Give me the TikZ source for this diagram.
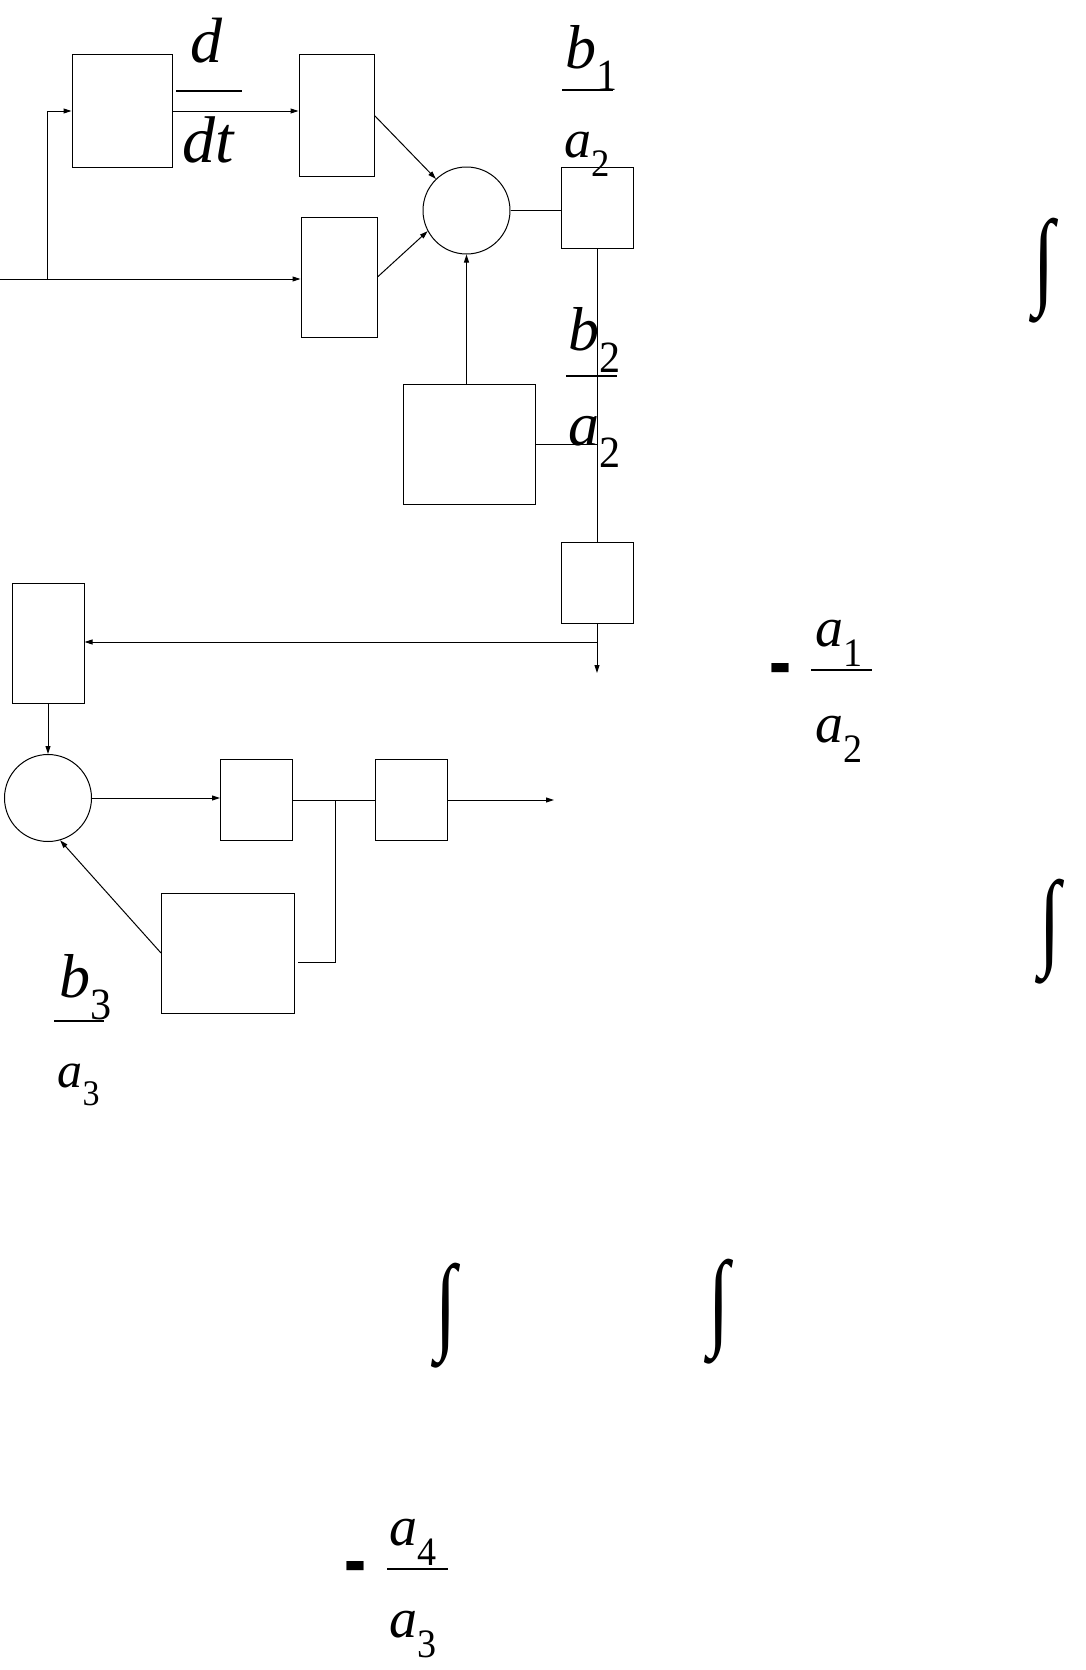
\documentclass[tikz,border=0pt]{standalone}
\usepackage{fontspec}
\usepackage{graphicx}
\setmainfont{Liberation Serif}
\usetikzlibrary{arrows.meta}

\newcommand{\coefsym}[2]{\textit{#1}\raisebox{-0.36em}{\scalebox{0.68}[0.72]{#2}}}

\begin{document}
\begin{tikzpicture}[x=1pt,y=-1pt,line width=1pt,>={Triangle[length=8pt,width=5pt]}]

    \tikzset{blk/.style={draw,minimum width=#1,inner sep=0pt},
             sumnode/.style={draw,circle,minimum size=87pt,inner sep=0pt},
             lbl/.style={inner sep=0pt,anchor=base west,font=\fontsize{#1pt}{#1pt}\selectfont},
             fracbar/.style={line width=2pt},
             minussign/.style={inner sep=0pt,font=\fontsize{60pt}{60pt}\selectfont\bfseries},
             intsign/.style={inner sep=0pt,font=\fontsize{#1pt}{#1pt}\selectfont}}
    \useasboundingbox (0,0) rectangle (1085,1670);

    \node[blk=100pt,minimum height=113pt] (diffbox) at (122,111) {};
    \node[blk=75pt,minimum height=121pt] (kbox1) at (336.5,115.5) {};
    \node[blk=76pt,minimum height=120pt] (kbox2) at (339,277) {};
    \node[sumnode] (sum1) at (466.5,210.5) {};
    \node[blk=72pt,minimum height=81pt] (gbox1) at (597,207.5) {};
    \node[blk=132pt,minimum height=120pt] (fbox1) at (469,444) {};
    \node[blk=72pt,minimum height=81pt] (gbox2) at (597,582.5) {};

    \node[blk=72pt,minimum height=120pt] (fbox2) at (48,643) {};
    \node[sumnode] (sum2) at (48,798) {};
    \node[blk=72pt,minimum height=81pt] (gbox3) at (256.5,800) {};
    \node[blk=72pt,minimum height=81pt] (gbox4) at (411.5,800) {};
    \node[blk=133pt,minimum height=120pt] (fbox3) at (228,953) {};

    \coordinate (in) at (0,279);
    \coordinate (br) at (47.6,279);
    \coordinate (tap1) at (597,642);
    \coordinate (out1) at (597,673);
    \coordinate (tap2) at (335,800);
    \coordinate (tap3) at (298,962);
    \coordinate (out2) at (554,800);

    % first loop
    \draw[->] (in) -- (in -| kbox2.west);
    \draw[->] (br) |- (diffbox.west);
    \draw[->] (diffbox.east) -- (diffbox.east -| kbox1.west);
    \draw[->] (kbox1.east) -- (sum1);
    \draw[->] (kbox2.east) -- (sum1.208);
    \draw (sum1.east) -- (sum1.east -| gbox1.west);
    \draw (gbox1.south) -- (gbox2.north);
    \draw[->] (sum1.south |- fbox1.north) -- (sum1.south);
    \draw (fbox1.east) -- (fbox1.east -| gbox2.north);
    \draw[->] (gbox2.south) -- (out1);
    \draw[->] (tap1) -- (tap1 -| fbox2.east);

    % second loop
    \draw[->] (fbox2.south) -- (sum2.north);
    \draw[->] (sum2.east) -- (sum2.east -| gbox3.west);
    \draw (gbox3.east) -- (gbox4.west);
    \draw[->] (gbox4.east) -- (out2);
    \draw (tap2) |- (tap3);
    \draw[->] (fbox3.west) -- (sum2.-74);

    % coefficients
    \node[lbl=64] (dnum) at (190,63) {\textit{d}};
    \node[lbl=66] (dden) at (182,162) {\textit{dt}};
    \draw[fracbar] (176,90.7) -- (242,90.7);

    \node[lbl=62] (bone) at (565,68) {\coefsym{b}{1}};
    \node[lbl=54] (atwoA) at (564,157) {\coefsym{a}{2}};
    \draw[fracbar] (562,90) -- (613,90);

    \node[lbl=62] (btwo) at (568,350) {\coefsym{b}{2}};
    \node[lbl=62] (atwoB) at (568,445) {\coefsym{a}{2}};
    \draw[fracbar] (566,376) -- (617,376);

    \node[lbl=62] (bthree) at (59,997) {\coefsym{b}{3}};
    \node[lbl=50] (athreeA) at (57,1087) {\coefsym{a}{3}};
    \draw[fracbar] (54,1021) -- (104,1021);

    \node[minussign] (minusA) at (780.5,678) {\scalebox{1.1}[1.8]{-}};
    \node[lbl=56] (aone) at (815,646) {\coefsym{a}{1}};
    \node[lbl=56] (atwoC) at (815,742) {\coefsym{a}{2}};
    \draw[fracbar] (811,670) -- (872,670);

    \node[minussign] (minusB) at (355.5,1576) {\scalebox{1.1}[1.8]{-}};
    \node[lbl=56] (afour) at (389,1545) {\coefsym{a}{4}};
    \node[lbl=56] (athreeB) at (389,1637) {\coefsym{a}{3}};
    \draw[fracbar] (387,1569) -- (448,1569);

    % integrators
    \node[intsign=107] (intA) at (1044,271) {\scalebox{0.72}[1]{∫}};
    \node[intsign=107] (intB) at (1050,932) {\scalebox{0.72}[1]{∫}};
    \node[intsign=107] (intC) at (446,1316) {\scalebox{0.72}[1]{∫}};
    \node[intsign=107] (intD) at (719.5,1312) {\scalebox{0.72}[1]{∫}};

\end{tikzpicture}
\end{document}
